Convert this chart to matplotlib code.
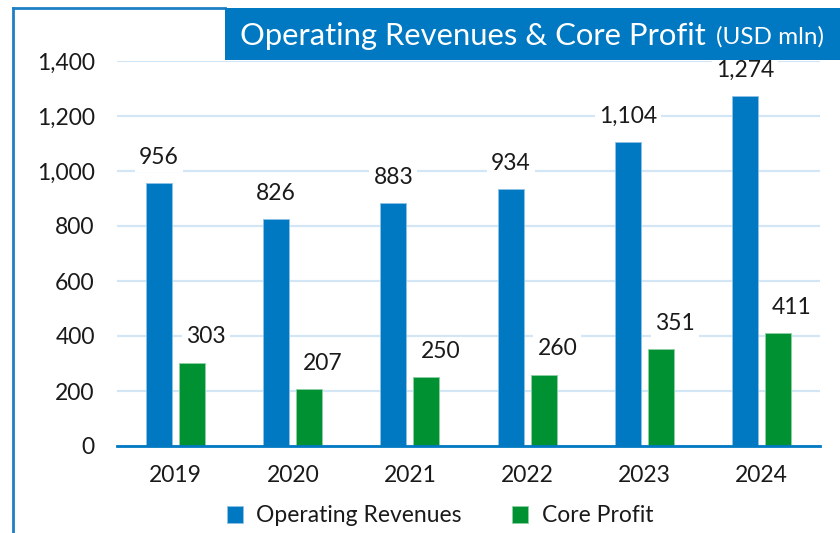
import numpy as np
import matplotlib
matplotlib.use("Agg")
import matplotlib.pyplot as plt
from matplotlib.patches import Rectangle

plt.rcParams['font.family'] = ['Lato', 'DejaVu Sans']

years = ["2019", "2020", "2021", "2022", "2023", "2024"]
revenues = [956, 826, 883, 934, 1104, 1274]
core_profit = [303, 207, 250, 260, 351, 411]

BLUE = "#0079c2"
GREEN = "#009232"
GRID = "#d3e6f5"
W, H = 840, 533

fig = plt.figure(figsize=(W / 100, H / 100), dpi=100)
ax = fig.add_axes([117 / W, 1 - 446 / H, (820 - 117) / W, (446 - 61) / H])

x = np.arange(len(years))
bw = 0.222
off = 0.141
b1 = ax.bar(x - off, revenues, bw, color=BLUE, edgecolor="#8fc2e6", linewidth=0.6,
            label="Operating Revenues", zorder=3)
b2 = ax.bar(x + off, core_profit, bw, color=GREEN, edgecolor="#8fd0a4", linewidth=0.6,
            label="Core Profit", zorder=3)

# green labels sit a little to the right, as in the source chart
for bars, vals, dx in ((b1, revenues, 0), (b2, core_profit, 10)):
    for r, v in zip(bars, vals):
        ax.annotate(f"{v:,}", (r.get_x() + r.get_width() / 2, v),
                    xytext=(dx, 11), textcoords="offset points",
                    ha="center", va="bottom", fontsize=16.5, color="#1a1a1a",
                    bbox=dict(facecolor="white", edgecolor="none", pad=3),
                    zorder=2)

ax.set_xlim(-0.5, len(years) - 0.5)
ax.set_ylim(0, 1400)
ax.set_yticks(range(0, 1401, 200))
ax.set_yticklabels([f"{v:,}" for v in range(0, 1401, 200)])
ax.set_xticks(x)
ax.set_xticklabels(years)
ax.tick_params(axis="both", length=0, labelsize=16.5, labelcolor="#1a1a1a")
ax.tick_params(axis="y", pad=16)
ax.tick_params(axis="x", pad=14)
ax.grid(axis="y", color=GRID, linewidth=1.6, zorder=0)
ax.set_axisbelow(True)
for s in ("top", "right", "left"):
    ax.spines[s].set_visible(False)
ax.spines["bottom"].set_color(BLUE)
ax.spines["bottom"].set_linewidth(2)
ax.spines["bottom"].set_zorder(5)

# frame lines on left and top
fig.add_artist(plt.Line2D([13 / W, 13 / W], [0, 1 - 8 / H], color="#1f7fc4",
                          linewidth=2, transform=fig.transFigure))
fig.add_artist(plt.Line2D([13 / W, 225 / W], [1 - 8 / H, 1 - 8 / H], color="#1f7fc4",
                          linewidth=2, transform=fig.transFigure))

# title box
fig.add_artist(Rectangle((225 / W, 1 - 60 / H), (W - 225) / W, 52 / H,
                         transform=fig.transFigure, facecolor=BLUE, edgecolor="none",
                         zorder=6))
fig.text(240 / W, 1 - 36 / H, "Operating Revenues & Core Profit", color="white",
         fontsize=22.3, ha="left", va="center", zorder=7)
fig.text(716 / W, 1 - 37 / H, "(USD mln)", color="white",
         fontsize=17.5, ha="left", va="center", zorder=7)

fig.legend(handles=[b1, b2], loc="center", bbox_to_anchor=(440 / W, 1 - 516 / H),
           ncol=2, frameon=False, fontsize=16.5, handlelength=0.7, handleheight=0.7,
           columnspacing=2.2, handletextpad=0.6, labelcolor="#1a1a1a")

fig.savefig("out.png", dpi=100)
